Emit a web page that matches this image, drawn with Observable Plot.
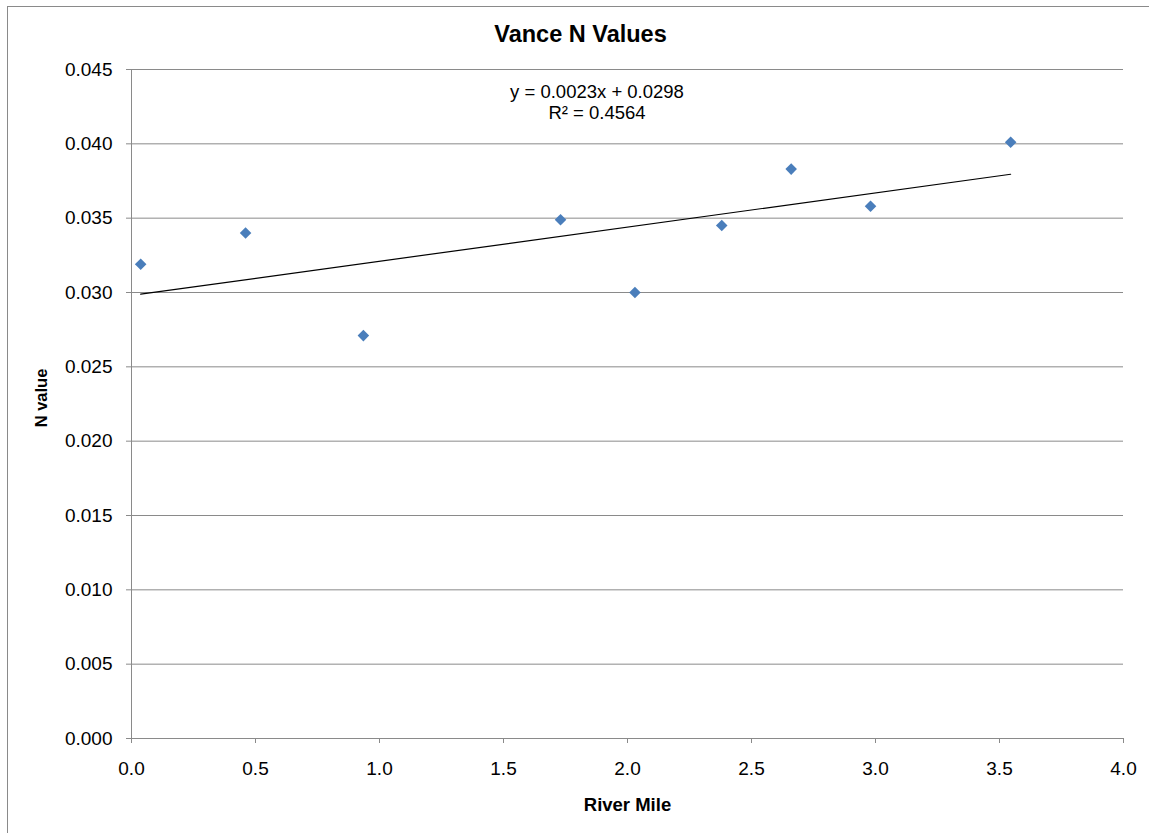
<!DOCTYPE html>
<html><head><meta charset="utf-8">
<script src="https://cdn.jsdelivr.net/npm/d3@7"></script>
<script src="https://cdn.jsdelivr.net/npm/@observablehq/plot@0.6"></script>
<style>body{margin:0;background:#fff;overflow:hidden}</style>
</head><body><div id="chart"></div>
<script>
const riverMile = [0.037, 0.46, 0.935, 1.73, 2.03, 2.38, 2.66, 2.98, 3.545];
const nValue = [0.0319, 0.0340, 0.0271, 0.0349, 0.0300, 0.0345, 0.0383, 0.0358, 0.0401];
const xTicks = [0, 0.5, 1.0, 1.5, 2.0, 2.5, 3.0, 3.5, 4.0];
const yTicks = [0, 0.005, 0.010, 0.015, 0.020, 0.025, 0.030, 0.035, 0.040, 0.045];
const trendSlope = 0.0023;
const trendIntercept = 0.0298;
const titleText = "Vance N Values";
const equationLines = ["y = 0.0023x + 0.0298", "R² = 0.4564"];
const xLabel = "River Mile";
const yLabel = "N value";

const points = riverMile.map((x, i) => ({x, y: nValue[i]}));
const xMin = d3.min(riverMile), xMax = d3.max(riverMile);
const trend = [xMin, xMax].map(x => ({x, y: trendSlope * x + trendIntercept}));

const font = "Liberation Sans, Arial, sans-serif";
const chart = Plot.plot({
  width: 1149, height: 833,
  marginLeft: 131, marginRight: 26, marginTop: 69, marginBottom: 95,
  style: {fontFamily: font, fontSize: "19px", color: "#000", background: "#fff"},
  x: {domain: [0, 4]},
  y: {domain: [0, 0.045]},
  marks: [
    Plot.gridY(yTicks, {stroke: "#8a8a8a", strokeOpacity: 1, strokeWidth: 1}),
    Plot.ruleX([0], {stroke: "#8a8a8a"}),
    Plot.ruleY([0], {stroke: "#8a8a8a"}),
    Plot.axisY(yTicks, {tickSize: 5, tickPadding: 14, stroke: "#8a8a8a", fill: "#000", fontSize: 19, tickFormat: d3.format(".3f"), label: null}),
    Plot.axisX(xTicks, {tickSize: 5, tickPadding: 18, stroke: "#8a8a8a", fill: "#000", fontSize: 19, tickFormat: d3.format(".1f"), label: null}),
    Plot.line(trend, {x: "x", y: "y", stroke: "#000", strokeWidth: 1.2}),
    Plot.dot(points, {x: "x", y: "y", symbol: "diamond2", r: 5.2, fill: "#4a7ebb", stroke: "none"}),
    Plot.text([titleText], {frameAnchor: "top", lineAnchor: "middle", textAnchor: "middle", dx: -47, dy: -35, fontSize: 23.5, fontWeight: "bold", text: d => d}),
    Plot.text([equationLines[0]], {frameAnchor: "top", lineAnchor: "middle", textAnchor: "middle", dx: -30.5, dy: 22.5, fontSize: 18.5, text: d => d}),
    Plot.text([equationLines[1]], {frameAnchor: "top", lineAnchor: "middle", textAnchor: "middle", dx: -30.5, dy: 43.5, fontSize: 18.5, text: d => d}),
    Plot.text([xLabel], {frameAnchor: "bottom", lineAnchor: "middle", textAnchor: "middle", dy: 67, fontSize: 18.5, fontWeight: "bold", text: d => d}),
    Plot.text([yLabel], {frameAnchor: "left", lineAnchor: "middle", textAnchor: "middle", dx: -90, dy: -6, rotate: -90, fontSize: 16.5, fontWeight: "bold", text: d => d})
  ]
});
d3.select(chart).insert("rect", ":first-child")
  .attr("x", 7.5).attr("y", 6.5).attr("width", 1300).attr("height", 1000)
  .attr("fill", "none").attr("stroke", "#8a8a8a");
document.getElementById("chart").appendChild(chart);
</script>
</body></html>
